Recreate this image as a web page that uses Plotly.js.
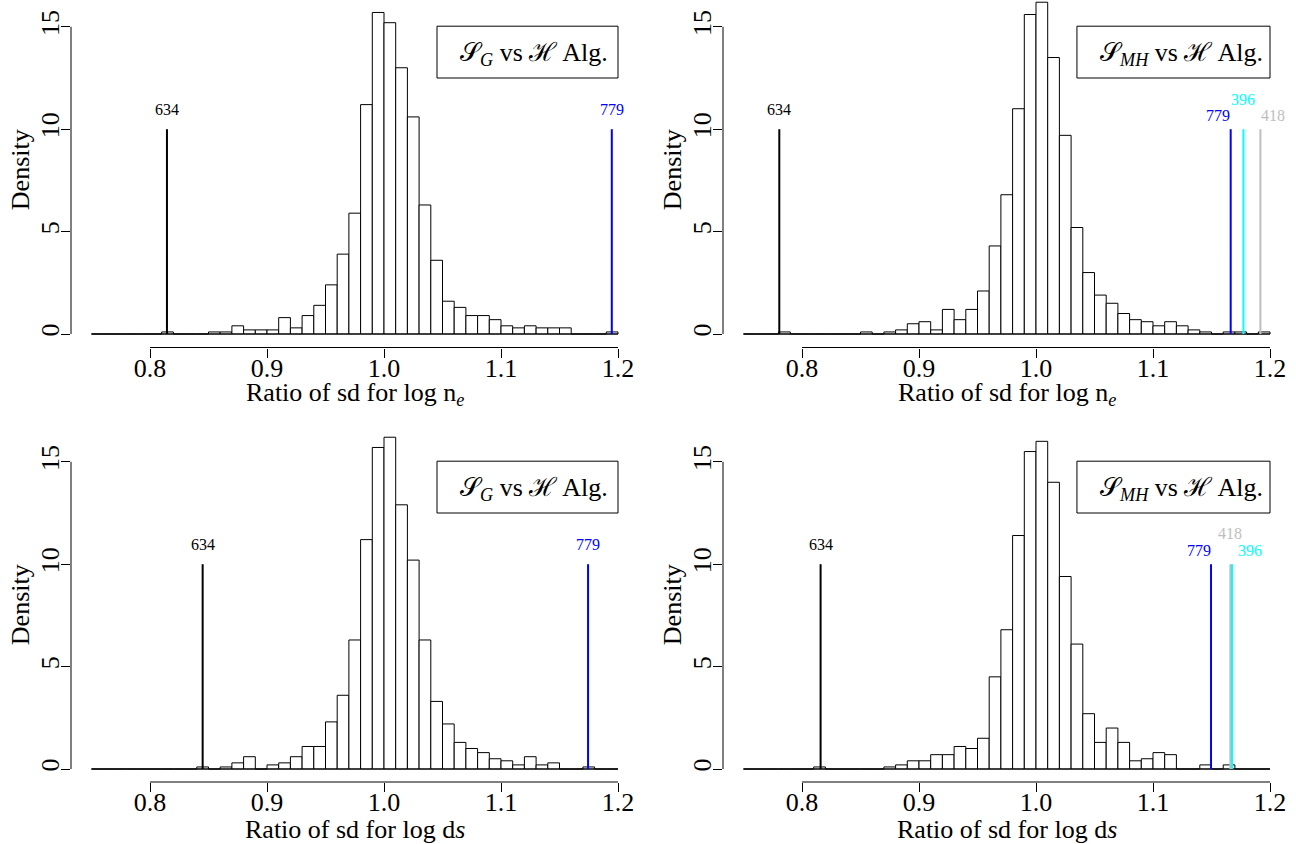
<!DOCTYPE html>
<html>
<head>
<meta charset="utf-8">
<script src="https://cdn.plot.ly/plotly-3.0.1.min.js"></script>
<style>html,body{margin:0;padding:0;background:#ffffff;}</style>
</head>
<body>
<div id="chart" style="width:1296px;height:844px;"></div>
<script>
// ---------------- data ----------------
const BIN_START = 0.75;
const BIN_WIDTH = 0.01;
const xTickVals = [0.8, 0.9, 1.0, 1.1, 1.2];
const xTickText = ["0.8", "0.9", "1.0", "1.1", "1.2"];
const yTickVals = [0, 5, 10, 15];
const yTickText = ["0", "5", "10", "15"];

// densities per 0.01 bin, bins start at 0.75 and end at 1.20
const densNeG  = [0,0,0,0,0,0,0.1,0,0,0, 0.1,0.1,0.4,0.2,0.2,0.2,0.8,0.3,0.9,1.4, 2.4,3.9,5.9,11.2,15.7,15.2,13.0,10.6,6.3,3.6, 1.6,1.3,0.9,0.9,0.7,0.4,0.3,0.4,0.3,0.3, 0.3,0,0,0,0.1];
const densNeMH = [0,0,0,0.1,0,0,0,0,0,0, 0.1,0,0.1,0.2,0.5,0.6,0.2,1.2,0.7,1.2, 2.1,4.3,6.8,11.0,15.6,16.2,13.5,9.7,5.2,3.0, 1.9,1.5,1.0,0.7,0.6,0.4,0.6,0.4,0.2,0.1, 0,0.1,0.1,0,0.1];
const densDsG  = [0,0,0,0,0,0,0,0,0,0.1, 0,0.1,0.3,0.6,0,0.2,0.3,0.6,1.1,1.1, 2.3,3.6,6.3,11.2,15.7,16.2,12.9,10.2,6.3,3.3, 2.2,1.3,1.0,0.8,0.5,0.4,0.2,0.6,0.2,0.3, 0,0,0.1,0,0];
const densDsMH = [0,0,0,0,0,0,0.1,0,0,0, 0,0,0.1,0.2,0.4,0.4,0.7,0.7,1.1,1.0, 1.5,4.5,6.8,11.4,15.5,16.0,14.0,9.4,6.1,2.7, 1.3,2.0,1.3,0.4,0.5,0.8,0.7,0,0,0.2, 0,0.2,0,0,0];

// reference values (vertical marks) and their ids
const MARK_HEIGHT = 10;
const neG_ids  = ["634", "779"];
const neG_vals = [0.8145, 1.1947];
const neMH_ids  = ["634", "779", "396", "418"];
const neMH_vals = [0.7806, 1.1664, 1.1773, 1.1918];
const dsG_ids  = ["634", "779"];
const dsG_vals = [0.8450, 1.1744];
const dsMH_ids  = ["634", "779", "418", "396"];
const dsMH_vals = [0.8159, 1.1496, 1.1661, 1.1675];

const idColors = {"634": "#000000", "779": "#0000FF", "396": "#00FFFF", "418": "#BEBEBE"};

// ---------------- layout geometry (pixels) ----------------
const W = 1296, H = 844;
const PX_PER_X = 1170;   // pixels per unit on x
const PX_PER_Y = 20.48;  // pixels per unit on y
const cols = [{x08: 150, left: 71, right: 640}, {x08: 802, left: 723, right: 1292}];
const rows = [{y0: 334, axisY: 347.5, top: 0, titleY: 394}, {y0: 769, axisY: 782, top: 430, titleY: 829}];

// label placement: [xshift px, y value]
const placeStd = [[0, 10.97], [0, 10.97]];
const placeNeMH = [[0, 10.97], [-12.5, 10.68], [0, 11.47], [12.5, 10.68]];
const placeDsMH = [[0, 10.97], [-12.3, 10.68], [0, 11.5], [18, 10.68]];

const panels = [
  {dens: densNeG, ids: neG_ids, vals: neG_vals, place: placeStd, col: 0, row: 0, n: "",
   xtitle: "Ratio of sd for log n<sub><i>e</i></sub>", legend: "𝒮<sub><i>G</i></sub> vs ℋ Alg.", boxLeft: 1.0453},
  {dens: densNeMH, ids: neMH_ids, vals: neMH_vals, place: placeNeMH, col: 1, row: 0, n: "2",
   xtitle: "Ratio of sd for log n<sub><i>e</i></sub>", legend: "𝒮<sub><i>MH</i></sub> vs ℋ Alg.", boxLeft: 1.035},
  {dens: densDsG, ids: dsG_ids, vals: dsG_vals, place: placeStd, col: 0, row: 1, n: "3",
   xtitle: "Ratio of sd for log d<i>s</i>", legend: "𝒮<sub><i>G</i></sub> vs ℋ Alg.", boxLeft: 1.0453},
  {dens: densDsMH, ids: dsMH_ids, vals: dsMH_vals, place: placeDsMH, col: 1, row: 1, n: "4",
   xtitle: "Ratio of sd for log d<i>s</i>", legend: "𝒮<sub><i>MH</i></sub> vs ℋ Alg.", boxLeft: 1.035}
];

const FONT = "Liberation Serif, Times New Roman, serif";
const traces = [];
const shapes = [];
const annotations = [];
const layout = {
  width: W, height: H,
  margin: {l: 0, r: 0, t: 0, b: 0},
  paper_bgcolor: "#ffffff",
  plot_bgcolor: "rgba(0,0,0,0)",
  showlegend: false,
  hovermode: false,
  font: {family: FONT, size: 26, color: "#000000"}
};

panels.forEach(p => {
  const c = cols[p.col], r = rows[p.row];
  const xa = "x" + p.n, ya = "y" + p.n;
  const xKey = "xaxis" + p.n, yKey = "yaxis" + p.n;
  layout[xKey] = {
    domain: [c.left / W, c.right / W],
    range: [0.8 + (c.left - c.x08) / PX_PER_X, 0.8 + (c.right - c.x08) / PX_PER_X],
    anchor: ya, showgrid: false, zeroline: false, showline: false,
    tickmode: "array", tickvals: xTickVals, ticktext: xTickText,
    ticks: "outside", ticklen: 9, tickwidth: 1, tickcolor: "#000000", ticklabelstandoff: -12,
    tickfont: {family: FONT, size: 26, color: "#000000"}, fixedrange: true
  };
  layout[yKey] = {
    domain: [1 - r.axisY / H, 1 - r.top / H],
    range: [(r.y0 - r.axisY) / PX_PER_Y, (r.y0 - r.top) / PX_PER_Y],
    anchor: xa, showgrid: false, zeroline: false, showline: false,
    tickmode: "array", tickvals: yTickVals, ticktext: yTickText, tickangle: -90,
    ticks: "outside", ticklen: 9, tickwidth: 1, tickcolor: "#000000", ticklabelstandoff: -8,
    tickfont: {family: FONT, size: 26, color: "#000000"}, fixedrange: true
  };

  // histogram bars
  const centers = p.dens.map((d, i) => BIN_START + (i + 0.5) * BIN_WIDTH);
  traces.push({
    type: "bar", x: centers, y: p.dens, width: BIN_WIDTH, xaxis: xa, yaxis: ya,
    marker: {color: "#ffffff", line: {color: "#000000", width: 1}}, hoverinfo: "skip"
  });
  // baseline of histogram (zero-height bins)
  const binEnd = BIN_START + p.dens.length * BIN_WIDTH;
  traces.push({
    type: "scatter", mode: "lines", x: [BIN_START, binEnd], y: [0, 0], xaxis: xa, yaxis: ya,
    line: {color: "#000000", width: 1}, hoverinfo: "skip"
  });
  // reference marks
  p.ids.forEach((id, k) => {
    traces.push({
      type: "scatter", mode: "lines", x: [p.vals[k], p.vals[k]], y: [0, MARK_HEIGHT],
      xaxis: xa, yaxis: ya, line: {color: idColors[id], width: 2}, hoverinfo: "skip"
    });
    annotations.push({
      xref: xa, yref: ya, x: p.vals[k], y: p.place[k][1], xshift: p.place[k][0],
      text: id, showarrow: false, xanchor: "center", yanchor: "middle",
      font: {family: FONT, size: 16, color: idColors[id]}
    });
  });

  // axis lines (R style: from first to last tick)
  shapes.push({type: "line", xref: xa, yref: "paper",
    x0: xTickVals[0], x1: xTickVals[xTickVals.length - 1],
    y0: 1 - r.axisY / H, y1: 1 - r.axisY / H, line: {color: "#000000", width: 1}});
  shapes.push({type: "line", xref: "paper", yref: ya,
    x0: c.left / W, x1: c.left / W,
    y0: yTickVals[0], y1: yTickVals[yTickVals.length - 1], line: {color: "#000000", width: 1}});

  // legend box
  shapes.push({type: "rect", xref: xa, yref: ya, x0: p.boxLeft, x1: 1.2, y0: 12.5, y1: 15.03,
    line: {color: "#000000", width: 1}, fillcolor: "rgba(0,0,0,0)"});
  annotations.push({xref: xa, yref: ya, x: p.boxLeft, xshift: 21, y: 13.65,
    text: p.legend, showarrow: false, xanchor: "left", yanchor: "middle",
    font: {family: FONT, size: 26, color: "#000000"}});

  // axis titles
  annotations.push({xref: xa, yref: "paper", x: 0.975, y: 1 - r.titleY / H,
    text: p.xtitle, showarrow: false, xanchor: "center", yanchor: "middle",
    font: {family: FONT, size: 26, color: "#000000"}});
  annotations.push({xref: "paper", yref: ya, x: (c.left - 51) / W, y: 8.0,
    text: "Density", textangle: -90, showarrow: false, xanchor: "center", yanchor: "middle",
    font: {family: FONT, size: 26, color: "#000000"}});
});

layout.shapes = shapes;
layout.annotations = annotations;
layout.bargap = 0;

Plotly.newPlot("chart", traces, layout, {staticPlot: true, displayModeBar: false});
</script>
</body>
</html>
